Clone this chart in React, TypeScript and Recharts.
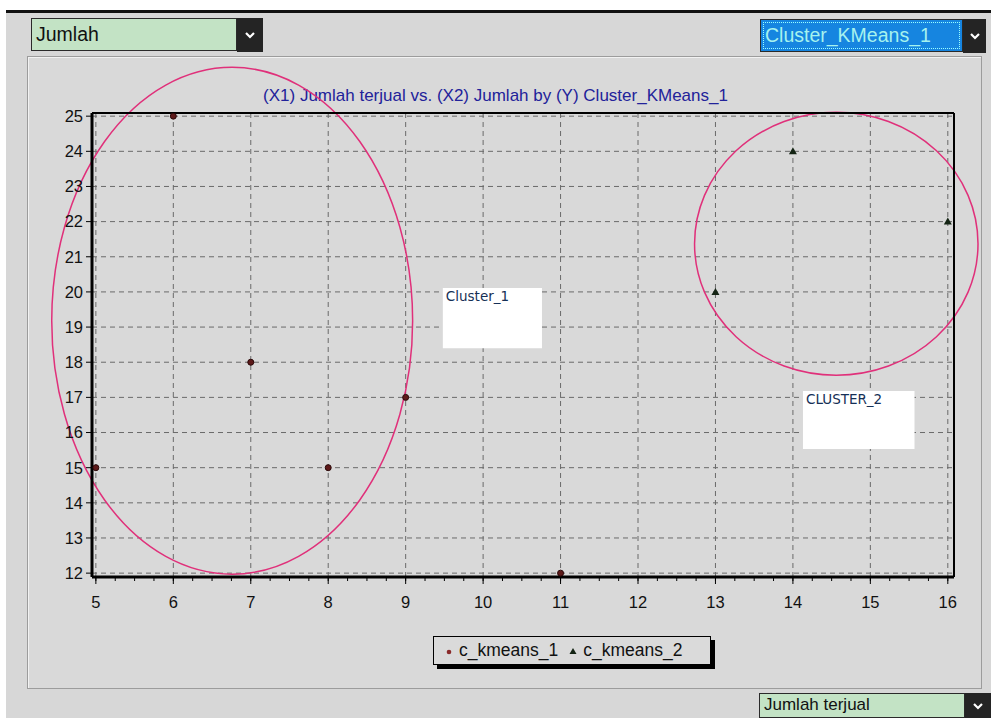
import { ScatterChart, Scatter, XAxis, YAxis, CartesianGrid, ReferenceArea, ReferenceLine, Legend } from 'recharts';

const xTicks = [5, 6, 7, 8, 9, 10, 11, 12, 13, 14, 15, 16];
const xMinorTicks = xTicks.flatMap((t) => [t, t + 0.25, t + 0.5, t + 0.75]).filter((t) => t <= 16);
const yTicks = [12, 13, 14, 15, 16, 17, 18, 19, 20, 21, 22, 23, 24, 25];
const xDomain = [4.95, 16.08];
const yDomain = [11.89, 25.09];

const kmeans1X = [5, 6, 7, 8, 9, 11];
const kmeans1Y = [15, 25, 18, 15, 17, 12];
const kmeans2X = [13, 14, 16];
const kmeans2Y = [20, 24, 22];

const kmeans1 = kmeans1X.map((x, i) => ({ x, y: kmeans1Y[i] }));
const kmeans2 = kmeans2X.map((x, i) => ({ x, y: kmeans2Y[i] }));

// hand drawn cluster outlines (bounding boxes in data units)
const clusterOutlines = [
  { x1: 4.43, x2: 9.09, y1: 11.97, y2: 26.39 },
  { x1: 12.73, x2: 16.39, y1: 17.63, y2: 25.11 },
];
const clusterNotes = [
  { label: 'Cluster_1', x1: 9.48, x2: 10.76, y1: 18.4, y2: 20.11 },
  { label: 'CLUSTER_2', x1: 14.13, x2: 15.57, y1: 15.53, y2: 17.18 },
];

const title = '(X1) Jumlah terjual vs. (X2) Jumlah by (Y) Cluster_KMeans_1';
const font = '"Liberation Sans", Arial, sans-serif';

const Dot = (p: any) => <circle cx={p.cx} cy={p.cy} r={3} fill="#5e1a1a" stroke="#2a0808" strokeWidth={1} />;
const Tri = (p: any) => (
  <path d={`M${p.cx},${p.cy - 4} L${p.cx + 4},${p.cy + 3} L${p.cx - 4},${p.cy + 3} Z`} fill="#142414" />
);

const XTick = ({ x, y, payload }: any) => {
  if (!Number.isInteger(payload.value)) return <g />;
  return (
    <g>
      <line x1={x} y1={y - 6} x2={x} y2={y + 1} stroke="#000" />
      <text x={x} y={y} dy={25} textAnchor="middle" fontSize={16.5} fontFamily={font} fill="#111">
        {payload.value}
      </text>
    </g>
  );
};

const Ellipse = (p: any) => (
  <ellipse
    cx={p.x + p.width / 2}
    cy={p.y + p.height / 2}
    rx={p.width / 2}
    ry={p.height / 2}
    fill="none"
    stroke="#e0307a"
    strokeWidth={1.5}
  />
);

const LegendBox = ({ payload }: any) => (
  <div
    style={{
      display: 'inline-flex',
      alignItems: 'center',
      border: '1px solid #000',
      boxShadow: '4px 4px 0 #000',
      background: '#dadada',
      padding: '3px 28px 3px 10px',
      fontFamily: font,
      fontSize: 17.5,
      color: '#111',
    }}
  >
    {(payload || []).map((e: any, i: number) => (
      <span key={i} style={{ display: 'inline-flex', alignItems: 'center', marginRight: i === 0 ? 10 : 0 }}>
        <svg width={10} height={10} style={{ marginRight: 5 }}>
          {i === 0 ? (
            <circle cx={5} cy={6} r={2.3} fill="#8a2a2a" />
          ) : (
            <path d="M5,2 L8.5,8 L1.5,8 Z" fill="#142414" />
          )}
        </svg>
        {e.value}
      </span>
    ))}
  </div>
);

const Chevron = () => (
  <svg width={10} height={7}>
    <polyline points="1,1 5,5 9,1" fill="none" stroke="#fff" strokeWidth={2.2} />
  </svg>
);

function Dropdown({ left, top, width, height, text, bg, color, btnWidth, fontSize, dotted, lineHeight }: any) {
  return (
    <>
      <div
        style={{
          position: 'absolute',
          left,
          top,
          width,
          height,
          boxSizing: 'border-box',
          background: bg,
          border: '1px solid #2a2a2a',
          color,
          fontFamily: font,
          fontSize,
          lineHeight: `${lineHeight ?? height - 2}px`,
          paddingLeft: 4,
          outline: dotted ? '1px dotted #9ff' : undefined,
          outlineOffset: dotted ? -4 : undefined,
          whiteSpace: 'nowrap',
          overflow: 'hidden',
        }}
      >
        {text}
      </div>
      <div
        style={{
          position: 'absolute',
          left: left + width,
          top,
          width: btnWidth,
          height: height + 1,
          background: '#242424',
          display: 'flex',
          alignItems: 'center',
          justifyContent: 'center',
        }}
      >
        <Chevron />
      </div>
    </>
  );
}

export default function App() {
  return (
    <div style={{ position: 'absolute', left: 0, top: 0, width: 991, height: 718, background: '#fff', overflow: 'hidden' }}>
      <div
        style={{
          position: 'absolute',
          left: 6,
          top: 10,
          width: 985,
          height: 708,
          background: '#d7d7d7',
          borderTop: '3px solid #111',
          boxSizing: 'border-box',
        }}
      />
      <div
        style={{
          position: 'absolute',
          left: 27,
          top: 56,
          width: 955,
          height: 633,
          boxSizing: 'border-box',
          border: '1px solid #9c9c9c',
          boxShadow: 'inset 1px 1px 0 #f2f2f2',
          background: '#d9d9d9',
        }}
      />
      <Dropdown left={31} top={18} width={206} height={33} text="Jumlah" bg="#c3e3c5" color="#111" btnWidth={26} fontSize={19.5} />
      <Dropdown left={760} top={19} width={203} height={33} text="Cluster_KMeans_1" bg="#1685e0" color="#a6f2ee" btnWidth={23} fontSize={19.5} dotted />
      <Dropdown left={759} top={693} width={206} height={25} lineHeight={22} text="Jumlah terjual" bg="#c3e3c5" color="#111" btnWidth={26} fontSize={17} />
      <div
        style={{
          position: 'absolute',
          left: 0,
          top: 86,
          width: 991,
          textAlign: 'center',
          fontFamily: font,
          fontSize: 17,
          color: '#22229a',
        }}
      >
        {title}
      </div>
      <div style={{ position: 'absolute', left: 0, top: 0 }}>
        <ScatterChart width={991} height={718} margin={{ top: 113, right: 37, bottom: 101, left: 32 }}>
          <XAxis xAxisId="grid" type="number" dataKey="x" hide domain={xDomain} ticks={xTicks} allowDataOverflow />
          <CartesianGrid xAxisId="grid" stroke="#6a6a6a" strokeDasharray="5 4" />
          <XAxis
            type="number"
            dataKey="x"
            domain={xDomain}
            ticks={xMinorTicks}
            interval={0}
            allowDataOverflow
            height={40}
            tickSize={4}
            tickLine={{ stroke: '#000' }}
            axisLine={{ stroke: '#000', strokeWidth: 3 }}
            tick={<XTick />}
          />
          <YAxis
            type="number"
            dataKey="y"
            domain={yDomain}
            ticks={yTicks}
            interval={0}
            allowDataOverflow
            width={60}
            tickSize={6}
            tickMargin={3}
            tickLine={{ stroke: '#000' }}
            axisLine={{ stroke: '#000', strokeWidth: 3 }}
            tick={{ fill: '#111', fontSize: 16.5, fontFamily: font }}
          />
          <ReferenceLine y={yDomain[1]} stroke="#000" strokeWidth={2} />
          <ReferenceLine x={xDomain[1]} stroke="#000" strokeWidth={2} />
          {clusterNotes.map((n) => (
            <ReferenceArea
              key={n.label}
              x1={n.x1}
              x2={n.x2}
              y1={n.y1}
              y2={n.y2}
              fill="#fff"
              fillOpacity={1}
              stroke="none"
              ifOverflow="visible"
              label={{ value: n.label, position: 'insideTopLeft', offset: 3, fill: '#163056', fontSize: 13.5, fontFamily: '"DejaVu Sans", sans-serif' }}
            />
          ))}
          {clusterOutlines.map((c, i) => (
            <ReferenceArea key={i} x1={c.x1} x2={c.x2} y1={c.y1} y2={c.y2} ifOverflow="visible" shape={<Ellipse />} />
          ))}
          <Scatter name="c_kmeans_1" data={kmeans1} shape={<Dot />} isAnimationActive={false} />
          <Scatter name="c_kmeans_2" data={kmeans2} shape={<Tri />} isAnimationActive={false} />
          <Legend
            layout="horizontal"
            align="center"
            verticalAlign="middle"
            content={<LegendBox />}
            wrapperStyle={{ left: 433, top: 636, width: 320, height: 32 }}
          />
        </ScatterChart>
      </div>
    </div>
  );
}
